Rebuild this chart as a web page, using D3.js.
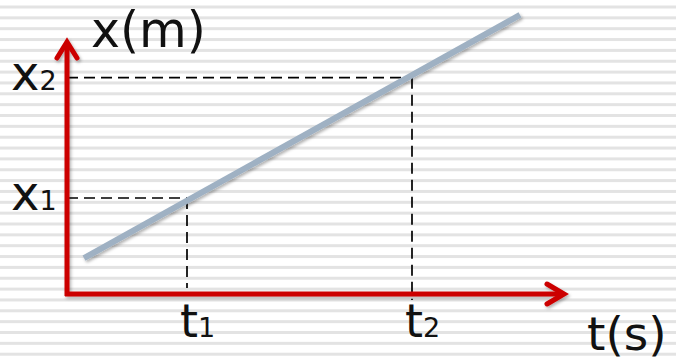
<!DOCTYPE html>
<html>
<head>
<meta charset="utf-8">
<script src="https://cdn.jsdelivr.net/npm/d3@7"></script>
<style>
html,body{margin:0;padding:0;background:#fff;}
svg{display:block;}
text{font-family:"DejaVu Sans",Verdana,sans-serif;fill:#111;}
</style>
</head>
<body>
<svg id="chart" width="676" height="362"></svg>
<script>
// Data (arbitrary units)
const lineT = [0.34, 9.06];          // time at line ends
const lineX = [1.4, 10.9];           // position at line ends
const tickT = [2.4, 6.9];            // t1, t2
const tickX = [3.75, 8.45];          // x1, x2
const tLabels = ["t", "t"];
const tSubs = ["1", "2"];
const xLabels = ["x", "x"];
const xSubs = ["1", "2"];
const axisLabelT = "t(s)";
const axisLabelX = "x(m)";

const W = 676, H = 362;
const svg = d3.select("#chart");

// striped background
const stripes = d3.range(5.5, H, 10.85);
svg.append("g").selectAll("rect").data(stripes).join("rect")
  .attr("x", 0).attr("width", W)
  .attr("y", d => d).attr("height", 3)
  .attr("fill", "#e3e3e3");

const xS = d3.scaleLinear().domain([0, 10]).range([67, 567]);
const yS = d3.scaleLinear().domain([0, 10]).range([294, 38]);

const defs = svg.append("defs");
const f = defs.append("filter").attr("id", "sh").attr("x", "-10%").attr("y", "-10%").attr("width", "120%").attr("height", "130%");
f.append("feDropShadow").attr("dx", 1.5).attr("dy", 2).attr("stdDeviation", 1.5).attr("flood-color", "#000").attr("flood-opacity", 0.3);

// dashed guides
const g = svg.append("g");
tickT.forEach((t, i) => {
  const px = xS(t), py = yS(tickX[i]);
  g.append("line").attr("x1", xS(0)).attr("x2", px).attr("y1", py).attr("y2", py)
    .attr("stroke", "#000").attr("stroke-width", 1.7).attr("stroke-dasharray", "11,6");
  g.append("line").attr("x1", px).attr("x2", px).attr("y1", py).attr("y2", i === 0 ? yS(0) - 6 : yS(0) + 6)
    .attr("stroke", "#000").attr("stroke-width", 1.7).attr("stroke-dasharray", "11,6");
});

// the line
svg.append("line")
  .attr("x1", xS(lineT[0])).attr("y1", yS(lineX[0]))
  .attr("x2", xS(lineT[1])).attr("y2", yS(lineX[1]))
  .attr("stroke", "#9fb1c3").attr("stroke-width", 6)
  .attr("filter", "url(#sh)");

// axes
const red = "#cc0000";
const ax = svg.append("g").attr("filter", "url(#sh)");
ax.append("path")
  .attr("d", `M${xS(0)},${yS(0)+2} L${xS(0)},${yS(10)+4} M${xS(0)-2},${yS(0)} L${xS(10)-3},${yS(0)}`)
  .attr("stroke", red).attr("stroke-width", 5).attr("fill", "none");
ax.append("path")
  .attr("d", `M${xS(0)-10},${yS(10)+20} L${xS(0)},${yS(10)+4} L${xS(0)+10},${yS(10)+20}`)
  .attr("stroke", red).attr("stroke-width", 5).attr("fill", "none").attr("stroke-linecap", "round").attr("stroke-linejoin", "miter");
ax.append("path")
  .attr("d", `M${xS(10)-20},${yS(0)-10} L${xS(10)-3},${yS(0)} L${xS(10)-20},${yS(0)+10}`)
  .attr("stroke", red).attr("stroke-width", 5).attr("fill", "none").attr("stroke-linecap", "round");

// tick labels
tickT.forEach((t, i) => {
  const tx = svg.append("text").attr("x", xS(t) - 7).attr("y", 337).attr("font-size", 46);
  tx.append("tspan").text(tLabels[i]);
  tx.append("tspan").attr("font-size", 27).text(tSubs[i]);
});
tickX.forEach((v, i) => {
  const tx = svg.append("text").attr("x", 11).attr("y", yS(v) + 12).attr("font-size", 48);
  tx.append("tspan").text(xLabels[i]);
  tx.append("tspan").attr("font-size", 27).text(xSubs[i]);
});

svg.append("text").attr("x", 91).attr("y", 47).attr("font-size", 49).text(axisLabelX);
svg.append("text").attr("x", 587).attr("y", 350).attr("font-size", 47).text(axisLabelT);
</script>
</body>
</html>
